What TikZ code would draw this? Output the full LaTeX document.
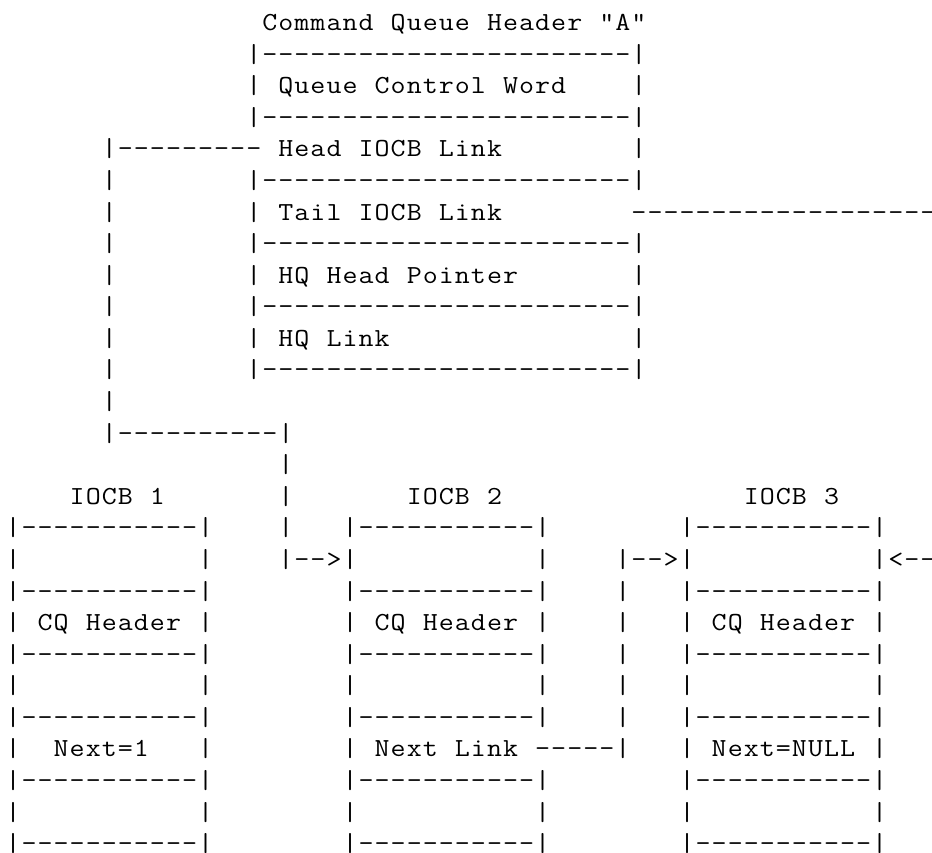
\documentclass[tikz,border=0pt]{standalone}
\usepackage{fontspec}
\usepackage{graphicx}
\newlength\cw \setlength\cw{16.05pt}
\makeatletter
\def\cells#1{\edef\cells@tmp{#1}\expandafter\cells@a\cells@tmp\relax}
\def\cells@a#1{\ifx\relax#1\else\ifx.#1\hbox to\cw{\hss}\else\hbox to\cw{\hss\scalebox{1.12}[1]{#1}\hss}\fi\expandafter\cells@a\fi}
\makeatother
\def\Df{-----}
\def\Dv{\Df\Df-}
\def\Dt{\Df\Df\Df\Df---}
\def\Sf{.....}
\def\Sv{\Sf\Sf.}
\tikzset{ascii/.style={anchor=base west, inner sep=0pt, outer sep=0pt,
  font=\fontsize{26pt}{26pt}\selectfont\ttfamily}}
\newcommand\seg[4]{\node[ascii] (#1) at ({4.975+16.05*#3},{30.6+31.58*#2}) {\cells{#4}};}
\begin{document}
\begin{tikzpicture}[x=1pt,y=-1pt]
\fill[white] (0,0) rectangle (932,852);
\useasboundingbox (0,0) rectangle (932,852);
% Command Queue Header
\seg{title}{0}{16}{Command.Queue.Header."A"}
\seg{r1}{1}{15}{|\Dt|}
\seg{qcw}{2}{15}{|.Queue.Control.Word....|}
\seg{r3}{3}{15}{|\Dt|}
\seg{head}{4}{6}{|\Df----.Head.IOCB.Link\Sf...|}
\seg{r5a}{5}{6}{|}
\seg{r5b}{5}{15}{|\Dt|}
\seg{r6a}{6}{6}{|}
\seg{tail}{6}{15}{|.Tail.IOCB.Link}
\seg{tailln}{6}{39}{\Df\Df\Df----}
\seg{r7a}{7}{6}{|}
\seg{r7b}{7}{15}{|\Dt|}
\seg{r8a}{8}{6}{|}
\seg{hqhp}{8}{15}{|.HQ.Head.Pointer\Sf..|}
\seg{r9a}{9}{6}{|}
\seg{r9b}{9}{15}{|\Dt|}
\seg{r10a}{10}{6}{|}
\seg{hql}{10}{15}{|.HQ.Link\Sf\Sf\Sf|}
\seg{r11a}{11}{6}{|}
\seg{r11b}{11}{15}{|\Dt|}
\seg{r12}{12}{6}{|}
\seg{r13}{13}{6}{|\Df\Df|}
\seg{r14}{14}{17}{|}
% IOCB titles
\seg{t1}{15}{4}{IOCB.1}
\seg{r15}{15}{17}{|}
\seg{t2}{15}{25}{IOCB.2}
\seg{t3}{15}{46}{IOCB.3}
% row 16
\seg{r16a}{16}{0}{|\Dv|}
\seg{r16b}{16}{17}{|}
\seg{r16c}{16}{21}{|\Dv|}
\seg{r16d}{16}{42}{|\Dv|}
% row 17
\seg{r17a}{17}{0}{|\Sv|}
\seg{r17b}{17}{17}{|-->|\Sv|}
\seg{r17c}{17}{38}{|-->|\Sv|<--}
% row 18
\seg{r18a}{18}{0}{|\Dv|}
\seg{r18b}{18}{21}{|\Dv|}
\seg{r18c}{18}{38}{|}
\seg{r18d}{18}{42}{|\Dv|}
% row 19
\seg{cq1}{19}{0}{|.CQ.Header.|}
\seg{cq2}{19}{21}{|.CQ.Header.|}
\seg{r19c}{19}{38}{|}
\seg{cq3}{19}{42}{|.CQ.Header.|}
% row 20
\seg{r20a}{20}{0}{|\Dv|}
\seg{r20b}{20}{21}{|\Dv|}
\seg{r20c}{20}{38}{|}
\seg{r20d}{20}{42}{|\Dv|}
% row 21
\seg{r21a}{21}{0}{|\Sv|}
\seg{r21b}{21}{21}{|\Sv|}
\seg{r21c}{21}{38}{|}
\seg{r21d}{21}{42}{|\Sv|}
% row 22
\seg{r22a}{22}{0}{|\Dv|}
\seg{r22b}{22}{21}{|\Dv|}
\seg{r22c}{22}{38}{|}
\seg{r22d}{22}{42}{|\Dv|}
% row 23
\seg{nx1}{23}{0}{|..Next=1...|}
\seg{nx2}{23}{21}{|.Next.Link.\Df|}
\seg{nx3}{23}{42}{|.Next=NULL.|}
% row 24
\seg{r24a}{24}{0}{|\Dv|}
\seg{r24b}{24}{21}{|\Dv|}
\seg{r24c}{24}{42}{|\Dv|}
% row 25
\seg{r25a}{25}{0}{|\Sv|}
\seg{r25b}{25}{21}{|\Sv|}
\seg{r25c}{25}{42}{|\Sv|}
% row 26
\seg{r26a}{26}{0}{|\Dv|}
\seg{r26b}{26}{21}{|\Dv|}
\seg{r26c}{26}{42}{|\Dv|}
\end{tikzpicture}
\end{document}
